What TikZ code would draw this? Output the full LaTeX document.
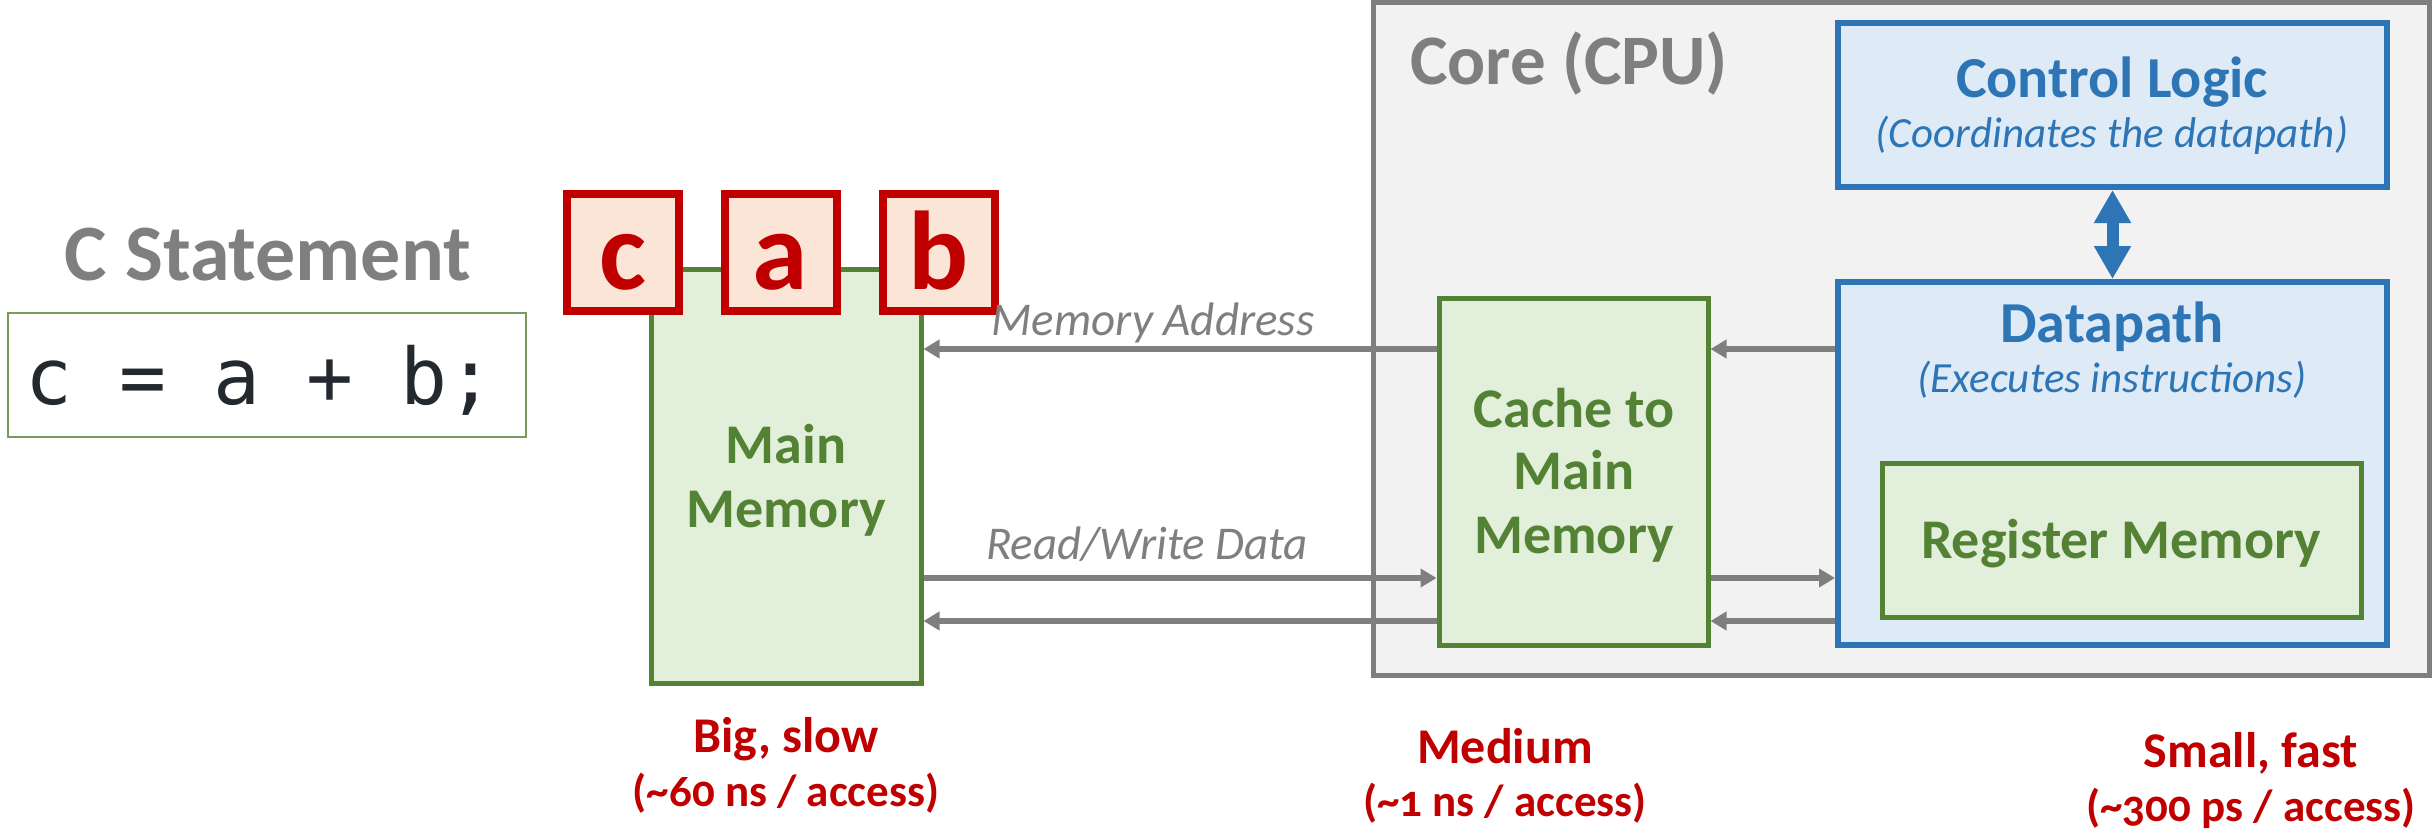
\documentclass[tikz,border=0pt]{standalone}
\usepackage{fontspec}
\setmainfont{Carlito}[Numbers=OldStyle]
\setmonofont{DejaVu Sans Mono}
\usetikzlibrary{arrows.meta}

\definecolor{ggreen}{HTML}{548235}
\definecolor{gfill}{HTML}{E2EFDA}
\definecolor{bblue}{HTML}{2E75B6}
\definecolor{bfill}{HTML}{DEEBF7}
\definecolor{rred}{HTML}{C00000}
\definecolor{rfill}{HTML}{FBE5D6}
\definecolor{ggray}{HTML}{7F7F7F}
\definecolor{corefill}{HTML}{F2F2F2}
\definecolor{codeink}{HTML}{23292F}

\newcommand\fsz[1]{\fontsize{#1}{#1}\selectfont}

\tikzset{
  panel/.style={draw, rectangle, inner sep=0pt},
  corebox/.style={panel, draw=ggray, fill=corefill, line width=5pt},
  greenbox/.style={panel, draw=ggreen, fill=gfill, line width=5pt},
  bluebox/.style={panel, draw=bblue, fill=bfill, line width=6pt},
  varbox/.style={panel, draw=rred, fill=rfill, line width=8pt},
  codebox/.style={panel, draw=ggreen!80, fill=white, line width=2pt},
  lbl/.style={anchor=base, inner sep=0pt},
  greentxt/.style={lbl, text=ggreen, font=\fsz{56}\bfseries},
  bluetitle/.style={lbl, text=bblue, font=\fsz{58}\bfseries},
  bluenote/.style={lbl, text=bblue, font=\fsz{43}\itshape},
  graynote/.style={lbl, text=ggray, font=\fsz{47}\itshape},
  speed/.style={lbl, text=rred, font=\fsz{50}\bfseries},
  speednote/.style={lbl, text=rred, font=\fsz{45}\bfseries},
  vartxt/.style={lbl, text=rred, font=\fsz{112}\bfseries},
  busarrow/.style={draw=ggray, line width=6pt, -{Triangle[length=16pt,width=18pt]}},
  ctrlarrow/.style={draw=bblue, line width=12pt,
    {Triangle[length=33pt,width=35pt]}-{Triangle[length=33pt,width=35pt]}},
}

\begin{document}
\begin{tikzpicture}[x=1pt,y=-1pt]
\useasboundingbox (0,0) rectangle (2432,832);

% ---- C statement ----
\node[lbl, text=ggray, font=\fsz{80}\bfseries] (ctitle) at (268,280) {C Statement};
\node[codebox, minimum width=518pt, minimum height=124pt] (code) at (267,375) {};
\node[lbl, text=codeink, font=\fsz{78}\ttfamily] (codetxt) at (260,404) {c = a + b;};

% ---- main memory with variables ----
\node[greenbox, minimum width=270pt, minimum height=414pt] (mm) at (786,476) {};
\node[greentxt] (mm1) at (786,463) {Main};
\node[greentxt] (mm2) at (786,527) {Memory};

\node[varbox, minimum width=112pt, minimum height=117pt] (vc) at (623,252.5) {};
\node[varbox, minimum width=112pt, minimum height=117pt] (va) at (780.5,252.5) {};
\node[varbox, minimum width=112pt, minimum height=117pt] (vb) at (939,252.5) {};
\node[vartxt] (vct) at (623,289) {c};
\node[vartxt] (vat) at (780.5,289) {a};
\node[vartxt] (vbt) at (939,289) {b};

% ---- core ----
\node[corebox, minimum width=1056pt, minimum height=672pt] (core) at (1901,339) {};
\node[lbl, anchor=base west, text=ggray, font=\fsz{71}\bfseries] (coret) at (1410,85) {Core (CPU)};

\node[bluebox, minimum width=549pt, minimum height=164pt] (ctrl) at (2112.5,105) {};
\node[bluetitle] (ctrlt) at (2112,98) {Control Logic};
\node[bluenote] (ctrln) at (2112,147) {(Coordinates the datapath)};

\node[bluebox, minimum width=549pt, minimum height=363pt] (dp) at (2112.5,463.5) {};
\node[bluetitle] (dpt) at (2112,342) {Datapath};
\node[bluenote] (dpn) at (2112,392) {(Executes instructions)};

\node[greenbox, minimum width=479pt, minimum height=154pt] (reg) at (2121.5,540) {};
\node[greentxt] (regt) at (2121,558) {Register Memory};

\node[greenbox, minimum width=269pt, minimum height=347pt] (cache) at (1573.5,471.5) {};
\node[greentxt] (ca1) at (1574,427) {Cache to};
\node[greentxt] (ca2) at (1574,489) {Main};
\node[greentxt] (ca3) at (1574,553) {Memory};

\draw[ctrlarrow] (ctrl.south) -- (dp.north);

% ---- buses ----
\draw[busarrow] (cache.west |- 0,349) -- (mm.east |- 0,349);
\draw[busarrow] (mm.east |- 0,578) -- (cache.west |- 0,578);
\draw[busarrow] (cache.west |- 0,621) -- (mm.east |- 0,621);
\draw[busarrow] (dp.west |- 0,349) -- (cache.east |- 0,349);
\draw[busarrow] (cache.east |- 0,578) -- (dp.west |- 0,578);
\draw[busarrow] (dp.west |- 0,621) -- (cache.east |- 0,621);

\node[graynote] (addr) at (1153,335) {Memory Address};
\node[graynote] (rw) at (1147,559) {Read/Write Data};

% ---- speed notes ----
\node[speed] (s1a) at (786,752) {Big, slow};
\node[speednote] (s1b) at (786,806) {(\textasciitilde60 ns / access)};
\node[speed] (s2a) at (1505,763) {Medium};
\node[speednote] (s2b) at (1505,816) {(\textasciitilde1 ns / access)};
\node[speed] (s3a) at (2251,767) {Small, fast};
\node[speednote] (s3b) at (2251,821) {(\textasciitilde300 ps / access)};
\end{tikzpicture}
\end{document}
